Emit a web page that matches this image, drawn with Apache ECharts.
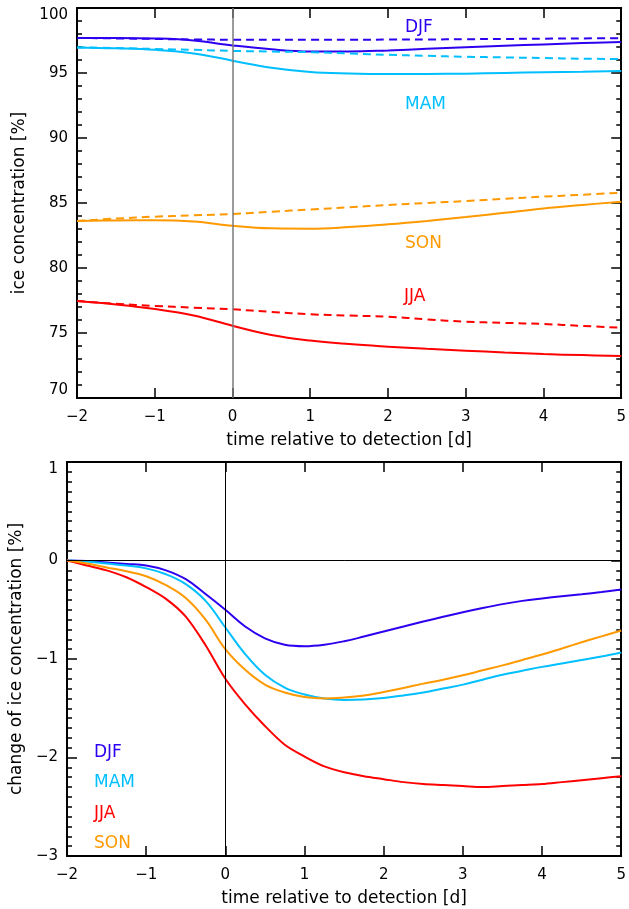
<!DOCTYPE html>
<html>
<head>
<meta charset="utf-8">
<script src="https://cdn.jsdelivr.net/npm/echarts@6/dist/echarts.min.js"></script>
<style>
  html, body { margin: 0; padding: 0; background: #fff; }
  #chart { width: 629px; height: 909px; }
</style>
</head>
<body>
<div id="chart"></div>
<script>
// Time axis (days relative to detection)
const daysTop = [-2, -1.5, -1, -0.5, 0, 0.5, 1, 1.5, 2, 2.5, 3, 3.5, 4, 4.5, 5];
const daysBottom = [-2, -1.75, -1.5, -1.25, -1, -0.75, -0.5, -0.25, 0, 0.25, 0.5, 0.75, 1,
  1.25, 1.5, 1.75, 2, 2.25, 2.5, 2.75, 3, 3.25, 3.5, 3.75, 4, 4.25, 4.5, 4.75, 5];

const seasons = ['DJF', 'MAM', 'JJA', 'SON'];
const seasonColors = { DJF: '#2d00ef', MAM: '#00bfff', JJA: '#ff0000', SON: '#ff9900' };

// Ice concentration [%]: solid = observed, dashed = reference
const iceDJF    = [97.7, 97.7, 97.66, 97.5, 97.12, 96.82, 96.66, 96.66, 96.74, 96.86, 96.98, 97.1, 97.2, 97.3, 97.38];
const iceDJFref = [97.7, 97.66, 97.62, 97.58, 97.56, 97.55, 97.55, 97.56, 97.57, 97.58, 97.6, 97.62, 97.64, 97.66, 97.68];
const iceMAM    = [96.97, 96.9, 96.78, 96.5, 95.95, 95.4, 95.08, 94.97, 94.93, 94.93, 94.95, 95.0, 95.06, 95.1, 95.15];
const iceMAMref = [96.97, 96.92, 96.85, 96.78, 96.7, 96.65, 96.6, 96.5, 96.4, 96.32, 96.25, 96.2, 96.15, 96.1, 96.07];
const iceJJA    = [77.46, 77.2, 76.85, 76.35, 75.56, 74.85, 74.42, 74.15, 73.95, 73.78, 73.64, 73.5, 73.38, 73.3, 73.23];
const iceJJAref = [77.46, 77.25, 77.08, 76.95, 76.82, 76.62, 76.44, 76.34, 76.25, 76.05, 75.87, 75.78, 75.69, 75.55, 75.4];
const iceSON    = [83.62, 83.66, 83.68, 83.58, 83.25, 83.05, 83.02, 83.15, 83.36, 83.62, 83.92, 84.25, 84.58, 84.85, 85.1];
const iceSONref = [83.62, 83.8, 83.95, 84.05, 84.15, 84.33, 84.5, 84.67, 84.85, 85.0, 85.15, 85.32, 85.49, 85.64, 85.79];

// Change of ice concentration [%]
const chgDJF = [0, -0.005, -0.02, -0.035, -0.05, -0.1, -0.19, -0.34, -0.5, -0.67, -0.79, -0.855, -0.87,
  -0.855, -0.82, -0.772, -0.72, -0.67, -0.62, -0.572, -0.525, -0.482, -0.443, -0.41, -0.385, -0.363, -0.343, -0.32, -0.295];
const chgMAM = [0, -0.01, -0.03, -0.05, -0.08, -0.14, -0.24, -0.41, -0.68, -0.95, -1.16, -1.29, -1.36,
  -1.4, -1.415, -1.41, -1.395, -1.37, -1.34, -1.3, -1.26, -1.21, -1.16, -1.12, -1.08, -1.045, -1.01, -0.975, -0.935];
const chgJJA = [0, -0.05, -0.1, -0.17, -0.27, -0.39, -0.57, -0.86, -1.2, -1.46, -1.68, -1.87, -1.99,
  -2.09, -2.15, -2.19, -2.22, -2.25, -2.27, -2.28, -2.29, -2.3, -2.29, -2.28, -2.27, -2.25, -2.23, -2.21, -2.19];
const chgSON = [0, -0.03, -0.07, -0.11, -0.16, -0.25, -0.38, -0.6, -0.9, -1.11, -1.26, -1.34, -1.385,
  -1.4, -1.39, -1.37, -1.335, -1.295, -1.25, -1.21, -1.165, -1.115, -1.065, -1.01, -0.955, -0.893, -0.83, -0.77, -0.71];

const topSolid = { DJF: iceDJF, MAM: iceMAM, JJA: iceJJA, SON: iceSON };
const topDashed = { DJF: iceDJFref, MAM: iceMAMref, JJA: iceJJAref, SON: iceSONref };
const bottomVals = { DJF: chgDJF, MAM: chgMAM, JJA: chgJJA, SON: chgSON };

const FONT = 'DejaVu Sans';
const minus = v => String(v).replace('-', '\u2212');
const pair = (xs, ys) => xs.map((x, i) => [x, ys[i]]);

const axisLine = { show: true, onZero: false, lineStyle: { color: '#000', width: 2 } };
const majorTick = { show: true, inside: true, length: 10, lineStyle: { color: '#000', width: 1.5 } };
const minorTick = (n) => ({ show: true, splitNumber: n, length: 5, lineStyle: { color: '#000', width: 1.5 } });

function xAxes(grid) {
  return [
    {
      gridIndex: grid, type: 'value', min: -2, max: 5, interval: 1, position: 'bottom',
      axisLine: axisLine, axisTick: majorTick,
      axisLabel: { show: true, margin: 12, fontFamily: FONT, fontSize: 15, color: '#000', formatter: minus },
      splitLine: { show: false },
      name: 'time relative to detection [d]', nameLocation: 'middle', nameGap: 34,
      nameTextStyle: { fontFamily: FONT, fontSize: 17, color: '#000' }
    },
    {
      gridIndex: grid, type: 'value', min: -2, max: 5, interval: 1, position: 'top',
      axisLine: axisLine, axisTick: majorTick,
      axisLabel: { show: false }, splitLine: { show: false }
    }
  ];
}

function yAxes(grid, min, max, step, minorSplit, name, nameGap, minAlign) {
  return [
    {
      gridIndex: grid, type: 'value', min: min, max: max, interval: step, position: 'left',
      axisLine: axisLine, axisTick: majorTick, minorTick: minorTick(minorSplit),
      axisLabel: {
        show: true, margin: 9, fontFamily: FONT, fontSize: 15, color: '#000', formatter: minus,
        verticalAlignMaxLabel: 'top', verticalAlignMinLabel: minAlign
      },
      splitLine: { show: false }, minorSplitLine: { show: false },
      name: name, nameLocation: 'middle', nameGap: nameGap, nameRotate: 90,
      nameTextStyle: { fontFamily: FONT, fontSize: 17, color: '#000' }
    },
    {
      gridIndex: grid, type: 'value', min: min, max: max, interval: step, position: 'right',
      axisLine: axisLine, axisTick: majorTick, minorTick: minorTick(minorSplit),
      axisLabel: { show: false }, splitLine: { show: false }, minorSplitLine: { show: false }
    }
  ];
}

const series = [];

// Upper panel: absolute concentration, solid and dashed per season
seasons.forEach(s => {
  series.push({
    type: 'line', xAxisIndex: 0, yAxisIndex: 0, data: pair(daysTop, topDashed[s]),
    smooth: 0.4, symbol: 'none', z: 3,
    lineStyle: { color: seasonColors[s], width: 2, type: [8, 5] }
  });
  series.push({
    type: 'line', xAxisIndex: 0, yAxisIndex: 0, data: pair(daysTop, topSolid[s]),
    smooth: 0.4, symbol: 'none', z: 3,
    lineStyle: { color: seasonColors[s], width: 2 }
  });
});

// Detection marker, upper panel
series.push({
  type: 'line', xAxisIndex: 0, yAxisIndex: 0, data: [], z: 2,
  markLine: {
    silent: true, symbol: 'none', label: { show: false }, animation: false,
    lineStyle: { color: '#7a7a7a', width: 1.5, type: 'solid' },
    data: [{ xAxis: 0 }]
  }
});

// Lower panel: change of concentration
seasons.forEach(s => {
  series.push({
    type: 'line', xAxisIndex: 2, yAxisIndex: 2, data: pair(daysBottom, bottomVals[s]),
    smooth: s === 'JJA' ? 0.3 : 0.4, symbol: 'none', z: 3,
    lineStyle: { color: seasonColors[s], width: 2 }
  });
});

// Zero lines, lower panel
series.push({
  type: 'line', xAxisIndex: 2, yAxisIndex: 2, data: [], z: 2,
  markLine: {
    silent: true, symbol: 'none', label: { show: false }, animation: false,
    lineStyle: { color: '#000', width: 1, type: 'solid' },
    data: [{ xAxis: 0 }, { yAxis: 0 }]
  }
});

const labelStyle = (s) => ({ text: s, fontFamily: FONT, fontSize: 17, fill: seasonColors[s], textAlign: 'left', textVerticalAlign: 'middle' });

const option = {
  animation: false,
  backgroundColor: '#fff',
  grid: [
    { left: 77, right: 3, top: 8, height: 390 },
    { left: 66, right: 7, top: 462, height: 394 }
  ],
  xAxis: [...xAxes(0), ...xAxes(1)],
  yAxis: [
    ...yAxes(0, 70, 100, 5, 5, 'ice concentration [%]', 46, 'bottom'),
    ...yAxes(1, -3, 1, 1, 10, 'change of ice concentration [%]', 33, 'middle')
  ],
  series: series,
  graphic: [
    { type: 'text', left: 405, top: 19, style: labelStyle('DJF') },
    { type: 'text', left: 405, top: 96, style: labelStyle('MAM') },
    { type: 'text', left: 405, top: 235, style: labelStyle('SON') },
    { type: 'text', left: 404, top: 288, style: labelStyle('JJA') },
    { type: 'text', left: 94, top: 744, style: labelStyle('DJF') },
    { type: 'text', left: 94, top: 774, style: labelStyle('MAM') },
    { type: 'text', left: 94, top: 805, style: labelStyle('JJA') },
    { type: 'text', left: 94, top: 835, style: labelStyle('SON') }
  ]
};

const chart = echarts.init(document.getElementById('chart'), null, { renderer: 'canvas' });
chart.setOption(option);
</script>
</body>
</html>
